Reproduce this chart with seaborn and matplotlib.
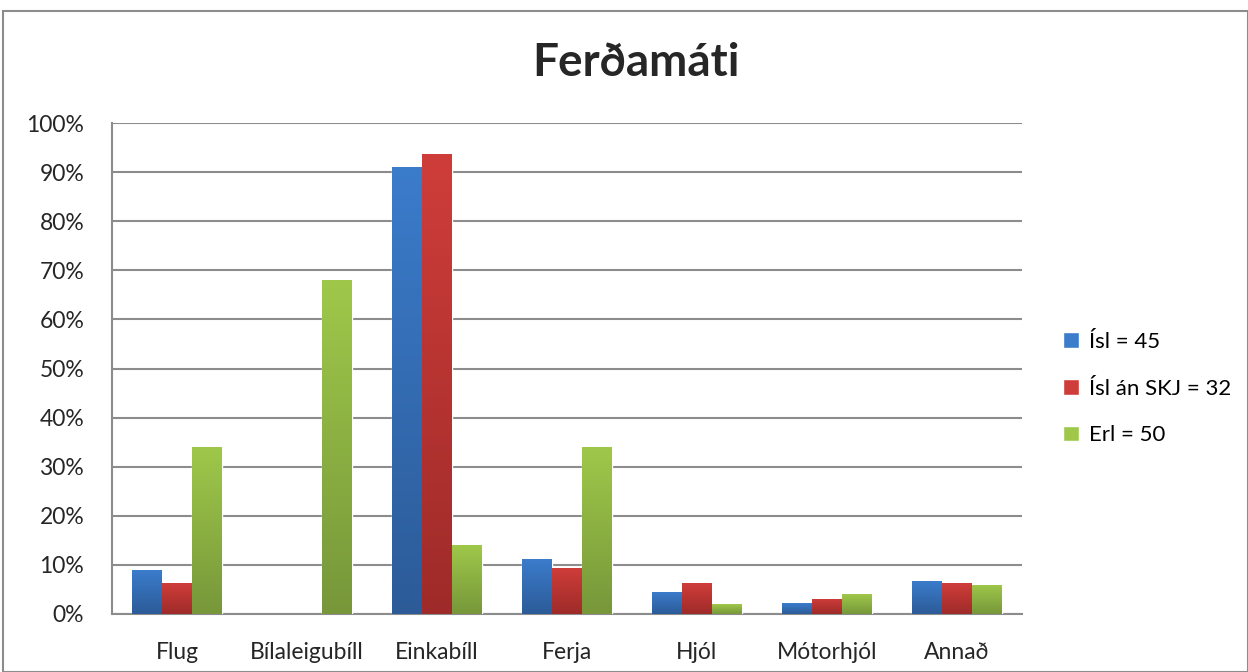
import numpy as np
import pandas as pd
import matplotlib
matplotlib.use("Agg")
import matplotlib.pyplot as plt
import seaborn as sns
from matplotlib.colors import LinearSegmentedColormap
from matplotlib.patches import Rectangle

# Data (share of respondents, %)
categories = ["Flug", "Bílaleigubíll", "Einkabíll", "Ferja", "Hjól", "Mótorhjól", "Annað"]
isl = [8.9, 0.0, 91.1, 11.1, 4.4, 2.2, 6.7]
isl_an_skj = [6.25, 0.0, 93.75, 9.4, 6.25, 3.1, 6.25]
erl = [34.0, 68.0, 14.0, 34.0, 2.0, 4.0, 6.0]
series_names = ["Ísl = 45", "Ísl án SKJ = 32", "Erl = 50"]

df = pd.DataFrame({
    "cat": categories * 3,
    "val": isl + isl_an_skj + erl,
    "grp": [series_names[0]] * 7 + [series_names[1]] * 7 + [series_names[2]] * 7,
})

sns.set_style("white")
plt.rcParams["font.family"] = ["Lato", "DejaVu Sans"]

# top/bottom colours for the gradient look
grads = [("#3b7ccb", "#2c5b98"), ("#cf3d3a", "#9e2b29"), ("#9fc84a", "#77973a")]
palette = {n: g[0] for n, g in zip(series_names, grads)}

fig = plt.figure(figsize=(12.48, 6.72), dpi=100)
ax = fig.add_axes([112 / 1248, 1 - 614 / 672, 910 / 1248, 491 / 672])

sns.barplot(data=df, x="cat", y="val", hue="grp", palette=palette, width=0.69,
            saturation=1, ax=ax, legend=True, zorder=3)

# vertical gradient fill clipped to each bar
grad_img = np.linspace(0, 1, 256).reshape(-1, 1)
for container, (top, bot) in zip(ax.containers, grads):
    cmap = LinearSegmentedColormap.from_list("g", [top, bot])
    for patch in container:
        h = patch.get_height()
        if h <= 0:
            patch.set_visible(False)
            continue
        x0 = patch.get_x()
        im = ax.imshow(grad_img, cmap=cmap, aspect="auto", zorder=3.5,
                       extent=[x0, x0 + patch.get_width(), 0, h], origin="upper")
        im.set_clip_path(patch)

ax.set_xlim(-0.5, 6.5)
ax.set_ylim(0, 100)
ax.set_yticks(range(0, 101, 10))
ax.set_yticklabels([f"{v}%" for v in range(0, 101, 10)], fontsize=16.5)
ax.set_xlabel("")
ax.set_ylabel("")
ax.grid(axis="y", color="#8c8c8c", linewidth=1.5, zorder=0)
ax.set_axisbelow(True)
for s in ["top", "right"]:
    ax.spines[s].set_visible(False)
for s in ["left", "bottom"]:
    ax.spines[s].set_color("#8c8c8c")
    ax.spines[s].set_linewidth(1.5)

ax.tick_params(axis="y", length=6, width=1.5, color="#8c8c8c", pad=14)
ax.tick_params(axis="x", which="major", length=0, pad=20, labelsize=16.5)
ax.set_xticks(np.arange(-0.5, 7, 1), minor=True)
ax.tick_params(axis="x", which="minor", length=8, width=1.5, color="#8c8c8c")

fig.suptitle("Ferðamáti", x=0.51, y=1 - 63 / 672, va="center",
             fontsize=33, fontweight="bold")

leg = ax.legend(loc="center left", bbox_to_anchor=(1.0235, 0.459), frameon=False,
                fontsize=16, handlelength=0.7, handleheight=0.7,
                handletextpad=0.45, labelspacing=1.2)
for t in leg.get_texts():
    t.set_color("black")

# outer chart border
fig.patches.append(Rectangle((3 / 1248, 0), 1 - 3 / 1248, 1 - 11 / 672, transform=fig.transFigure,
                             fill=False, edgecolor="#8c8c8c", linewidth=1.5))

fig.savefig("out.png", dpi=100)
